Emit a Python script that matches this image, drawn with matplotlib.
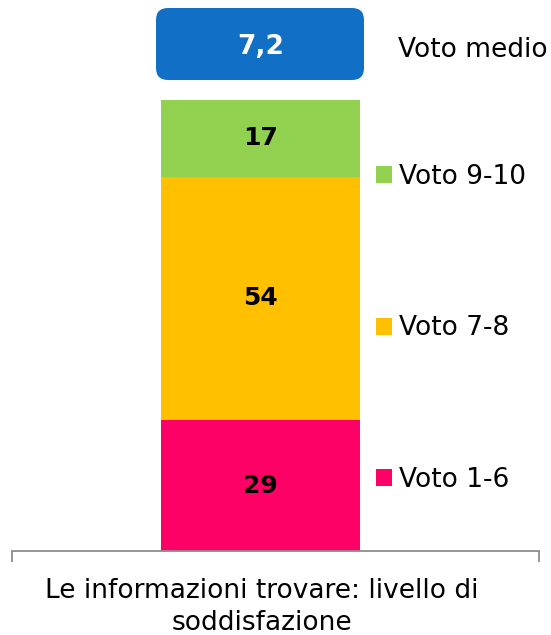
import matplotlib
matplotlib.use("Agg")
import matplotlib.pyplot as plt
from matplotlib.patches import FancyBboxPatch

category = "Le informazioni trovare: livello di\nsoddisfazione"
series = ["Voto 1-6", "Voto 7-8", "Voto 9-10"]
values = [29, 54, 17]
colors = ["#FF0066", "#FFC000", "#92D050"]
mean_label = "Voto medio"
mean_value = "7,2"

W, H = 551, 635
fig = plt.figure(figsize=(W / 100, H / 100), dpi=100)
# axes: x 12..539 px, y bottom 551, top 100 (0..100)
AX_L, AX_W, AX_B, AX_H = 12, 527, 551, 451
ax = fig.add_axes([AX_L / W, 1 - AX_B / H, AX_W / W, AX_H / H])
ax.set_xlim(0, 1)
ax.set_ylim(0, 100)

def px_x(p):
    return (p - AX_L) / AX_W

def px_y(p):
    return (AX_B - p) / AX_H * 100

bx = px_x(260.5)
bw = 199 / AX_W
bottom = 0
handles = []
for s, v, c in zip(series, values, colors):
    b = ax.bar(bx, v, width=bw, bottom=bottom, color=c, label=s, zorder=2)
    handles.append(b)
    ax.text(bx, bottom + v / 2, str(v), ha="center", va="center",
            fontsize=18, fontweight="bold", color="black")
    bottom += v

# mean box
x0, x1 = px_x(156), px_x(364)
y0, y1 = px_y(80), px_y(8)
r = 12 / AX_W
box = FancyBboxPatch((x0, y0), x1 - x0, y1 - y0,
                     boxstyle=f"round,pad=0,rounding_size={r}",
                     mutation_aspect=(100 / AX_H) / (1 / AX_W),
                     facecolor="#1170C6", edgecolor="none", clip_on=False, zorder=3)
ax.add_patch(box)
ax.text(bx, px_y(46.5), mean_value, ha="center", va="center", fontsize=19,
        fontweight="bold", color="white", zorder=4)
ax.text(px_x(398), px_y(50), mean_label, ha="left", va="center",
        fontsize=19, color="black")

leg = ax.legend(handles[::-1], series[::-1], loc="upper left",
                bbox_to_anchor=(px_x(376), px_y(164) / 100),
                frameon=False, fontsize=19, handlelength=0.62, handleheight=0.62,
                handletextpad=0.25, labelspacing=4.75, borderpad=0, borderaxespad=0)

for sp in ["top", "right", "left"]:
    ax.spines[sp].set_visible(False)
ax.spines["bottom"].set_color("#8C8C8C")
ax.spines["bottom"].set_linewidth(1.3)
ax.set_yticks([])
ax.set_xticks([0, 1])
ax.set_xticklabels(["", ""])
ax.tick_params(axis="x", direction="out", length=8, width=1.3, color="#8C8C8C")
ax.text(px_x(262), px_y(578), category, ha="center", va="top",
        fontsize=19, color="black", linespacing=1.3)

fig.savefig("out.png", dpi=100)
